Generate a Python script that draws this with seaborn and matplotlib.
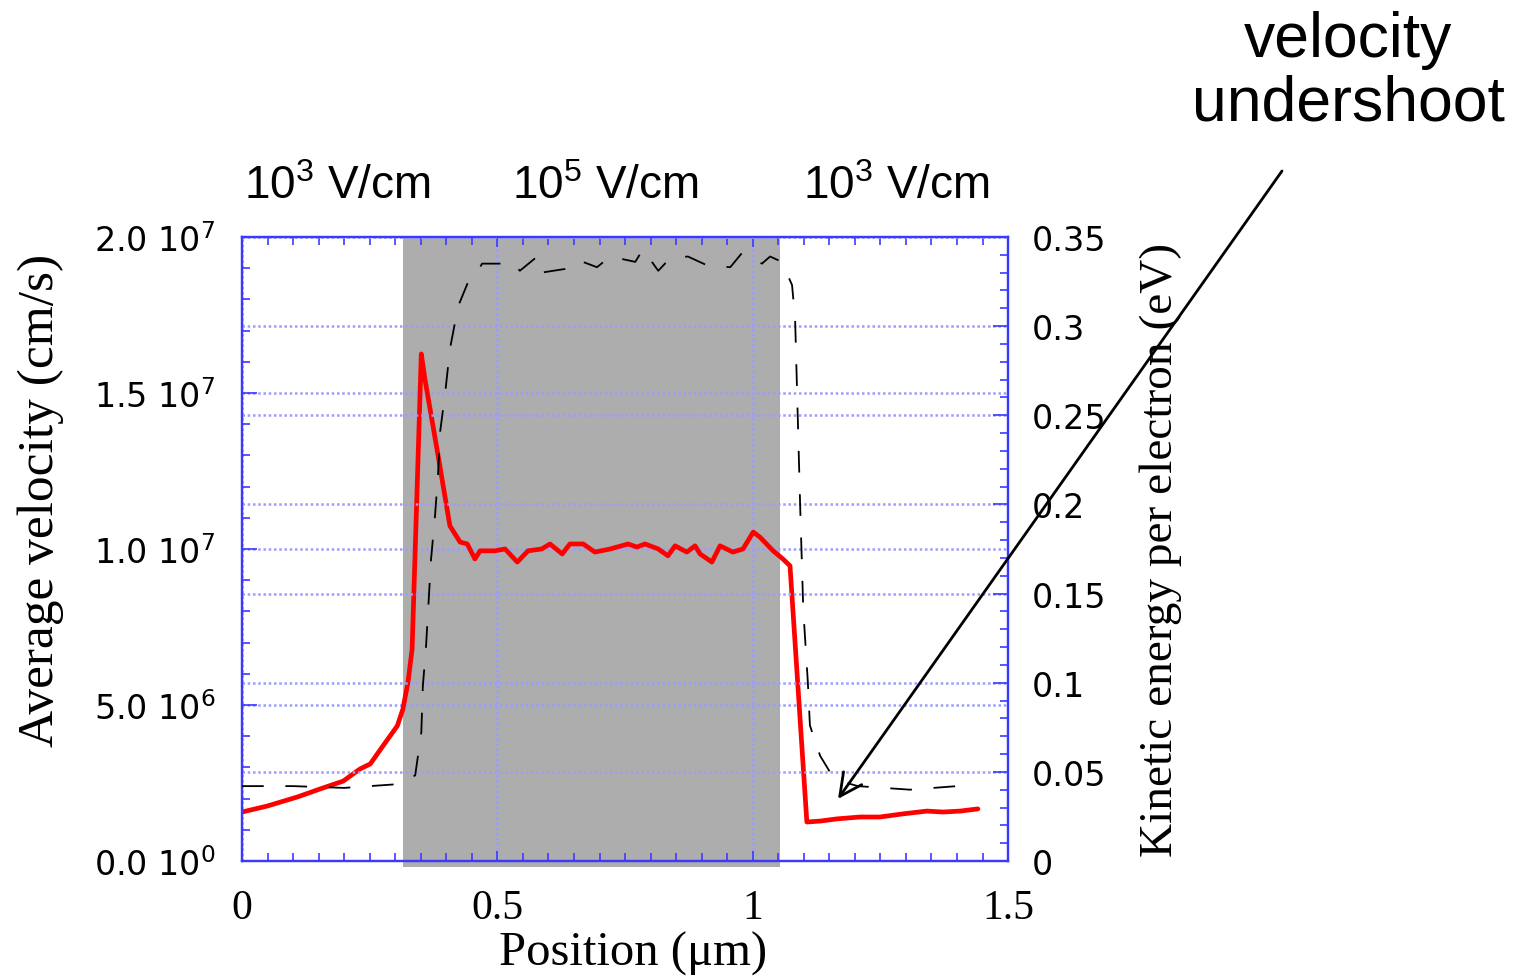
import matplotlib
matplotlib.use("Agg")
import matplotlib.pyplot as plt
from matplotlib.ticker import MultipleLocator, FixedLocator
import seaborn as sns
import pandas as pd

# ---------------- data ----------------
# red curve: average velocity (cm/s) vs position (um)
pos_v = [0.0, 0.049, 0.108, 0.153, 0.198, 0.231, 0.251, 0.276, 0.304, 0.315,
         0.325, 0.333, 0.351, 0.358, 0.384, 0.407, 0.427, 0.441, 0.456, 0.466,
         0.495, 0.515, 0.539, 0.560, 0.587, 0.603, 0.627, 0.642, 0.668, 0.691,
         0.721, 0.756, 0.773, 0.789, 0.815, 0.834, 0.848, 0.871, 0.887, 0.897,
         0.920, 0.936, 0.961, 0.981, 1.001, 1.014, 1.040, 1.059, 1.073, 1.106,
         1.132, 1.165, 1.210, 1.249, 1.294, 1.341, 1.373, 1.406, 1.441]
vel_e6 = [1.57, 1.76, 2.05, 2.31, 2.56, 2.95, 3.11, 3.69, 4.33, 4.87,
          5.74, 6.79, 16.25, 15.45, 12.98, 10.74, 10.22, 10.16, 9.68, 9.94,
          9.94, 10.0, 9.58, 9.94, 10.0, 10.16, 9.84, 10.16, 10.16, 9.90,
          10.0, 10.16, 10.06, 10.16, 10.0, 9.78, 10.10, 9.90, 10.10, 9.84,
          9.58, 10.10, 9.90, 10.0, 10.54, 10.38, 9.94, 9.68, 9.46, 1.25,
          1.28, 1.35, 1.41, 1.41, 1.51, 1.60, 1.57, 1.60, 1.67]
velocity = [v * 1e6 for v in vel_e6]

# dashed curve: kinetic energy per electron (eV)
pos_e = [0.0, 0.1, 0.2, 0.25, 0.30, 0.339, 0.351, 0.354, 0.360, 0.370,
         0.378, 0.384, 0.388, 0.398, 0.407, 0.423, 0.446, 0.460, 0.470, 0.495,
         0.515, 0.529, 0.544, 0.578, 0.587, 0.632, 0.658, 0.695, 0.721, 0.770,
         0.785, 0.815, 0.838, 0.873, 0.911, 0.956, 0.979, 1.018, 1.034, 1.057,
         1.077, 1.083, 1.093, 1.099, 1.108, 1.112, 1.132, 1.151, 1.181, 1.206,
         1.308, 1.400]
energy = [0.042, 0.042, 0.041, 0.042, 0.043, 0.048, 0.072, 0.098, 0.119, 0.169,
          0.194, 0.218, 0.241, 0.263, 0.287, 0.311, 0.327, 0.330, 0.335, 0.335,
          0.335, 0.336, 0.331, 0.339, 0.330, 0.332, 0.337, 0.333, 0.339, 0.336,
          0.343, 0.331, 0.338, 0.339, 0.334, 0.333, 0.341, 0.335, 0.339, 0.336,
          0.323, 0.304, 0.198, 0.141, 0.100, 0.076, 0.059, 0.050, 0.044, 0.042,
          0.040, 0.042]

# high-field region
field_region = [0.315, 1.053]

x_ticks = [0, 0.5, 1, 1.5]
x_ticklabels = ["0", "0.5", "1", "1.5"]
v_ticks = [0, 5e6, 1e7, 1.5e7, 2e7]
v_ticklabels = [r"0.0 10$\mathregular{^{0}}$", r"5.0 10$\mathregular{^{6}}$",
                r"1.0 10$\mathregular{^{7}}$", r"1.5 10$\mathregular{^{7}}$",
                r"2.0 10$\mathregular{^{7}}$"]
e_ticks = [0, 0.05, 0.1, 0.15, 0.2, 0.25, 0.3, 0.35]
e_ticklabels = ["0", "0.05", "0.1", "0.15", "0.2", "0.25", "0.3", "0.35"]

field_labels = [r"10$\mathregular{^{3}}$ V/cm", r"10$\mathregular{^{5}}$ V/cm",
                r"10$\mathregular{^{3}}$ V/cm"]
annot_text = "velocity\nundershoot"
annot_point = (1.167, 1.99e6)

# ---------------- styling ----------------
BLUE = "#3a3aff"
GRID = "#9c9cff"
SERIF = "Liberation Serif"
SANS = "Liberation Sans"

sns.set_style("white")
plt.rcParams["font.family"] = ["DejaVu Sans"]
plt.rcParams["text.color"] = "black"
plt.rcParams["axes.labelcolor"] = "black"
plt.rcParams["xtick.labelcolor"] = "black"
plt.rcParams["ytick.labelcolor"] = "black"

fig = plt.figure(figsize=(15.32, 9.79), dpi=100)
fig.patch.set_facecolor("white")
ax = fig.add_axes([0.158, 0.1195, 0.5, 0.6375])

ax.axvspan(field_region[0], field_region[1], ymin=-0.01, ymax=1.0,
           color="#adadad", zorder=0, clip_on=False, lw=0)

df_v = pd.DataFrame({"pos": pos_v, "vel": velocity})
sns.lineplot(data=df_v, x="pos", y="vel", ax=ax, color="#ff0000", lw=3.4,
             estimator=None, sort=False, zorder=3)

ax.set_xlim(0, 1.5)
ax.set_ylim(0, 2e7)
ax.xaxis.set_major_locator(FixedLocator(x_ticks))
ax.set_xticklabels(x_ticklabels, family=SERIF, fontsize=30, color="black")
ax.xaxis.set_minor_locator(MultipleLocator(0.05))
ax.yaxis.set_major_locator(FixedLocator(v_ticks))
ax.set_yticklabels(v_ticklabels, fontsize=24, color="black")
ax.yaxis.set_minor_locator(MultipleLocator(1e6))

ax.set_axisbelow(True)
ax.grid(True, which="major", color=GRID, ls=(0, (1, 1.1)), lw=1.8)

ax.tick_params(axis="x", which="both", direction="in", top=True, bottom=True,
               color=BLUE, width=1.2, pad=20)
ax.tick_params(axis="x", which="major", length=7)
ax.tick_params(axis="x", which="minor", length=6)
ax.tick_params(axis="y", which="both", direction="in", left=True, right=False,
               color=BLUE, width=1.2, pad=19)
ax.tick_params(axis="y", which="major", length=11)
ax.tick_params(axis="y", which="minor", length=6)

for s in ax.spines.values():
    s.set_color(BLUE)
    s.set_linewidth(1.6)

ax.set_xlabel("Position (μm)", family=SERIF, fontsize=35, color="black")
ax.xaxis.set_label_coords(0.51, -0.112)
ax.set_ylabel("Average velocity (cm/s)", family=SERIF, fontsize=37, color="black")
ax.yaxis.set_label_coords(-0.232, 0.58)

# right axis: kinetic energy
ax2 = ax.twinx()
df_e = pd.DataFrame({"pos": pos_e, "energy": energy})
sns.lineplot(data=df_e, x="pos", y="energy", ax=ax2, color="black", lw=1.3,
             estimator=None, sort=False, zorder=4)
ax2.lines[-1].set_linestyle((0, (12, 12)))
ax2.set_ylim(0, 0.35)
ax2.yaxis.set_major_locator(FixedLocator(e_ticks))
ax2.set_yticklabels(e_ticklabels, fontsize=24, color="black")
ax2.yaxis.set_minor_locator(MultipleLocator(0.01))
ax2.grid(True, axis="y", which="major", color=GRID, ls=(0, (1, 1.1)), lw=1.8)
ax2.set_axisbelow(True)
ax2.tick_params(axis="y", which="both", direction="in", color=BLUE, width=1.2,
                pad=17)
ax2.tick_params(axis="y", which="major", length=11)
ax2.tick_params(axis="y", which="minor", length=6)
for s in ax2.spines.values():
    s.set_color(BLUE)
    s.set_linewidth(1.6)
ax2.set_ylabel("Kinetic energy per electron (eV)", family=SERIF, fontsize=34,
               color="black")
ax2.yaxis.set_label_coords(1.172, 0.5)

# field labels above the plot
field_x = [337 / 1532, 605 / 1532, 896 / 1532]
for xf, lab in zip(field_x, field_labels):
    fig.text(xf, 1 - 187 / 979, lab, ha="center", va="center",
             family=SANS, fontsize=33, color="black")

# annotation
fig.text(1348 / 1532, 1 - 72 / 979, annot_text, ha="center", va="center",
         family=SANS, fontsize=45, linespacing=1.1, color="black")
ax2.annotate("", xy=(annot_point[0], annot_point[1] / 2e7 * 0.35), xycoords="data",
             xytext=(1282 / 1532, 1 - 172 / 979), textcoords="figure fraction",
             arrowprops=dict(arrowstyle="->", lw=2.0, color="black",
                             mutation_scale=40, shrinkA=0, shrinkB=0),
             annotation_clip=False)

fig.savefig("out.png", dpi=100, facecolor="white")
